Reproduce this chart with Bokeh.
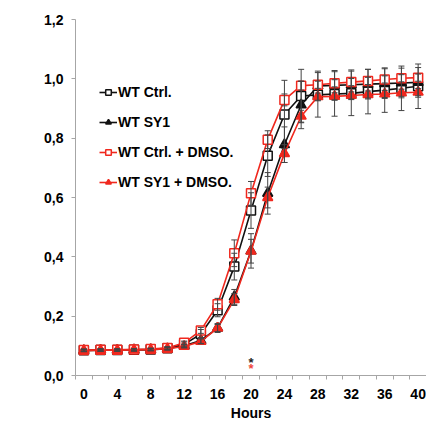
import numpy as np
from bokeh.plotting import figure
from bokeh.models import (ColumnDataSource, Whisker, TeeHead, FixedTicker, Legend,
                          LegendItem, Label, Range1d)
from bokeh.embed import file_html
from bokeh.resources import INLINE
from bokeh.core.properties import value

# ---------------- data ----------------
hours = [0, 2, 4, 6, 8, 10, 12, 14, 16, 18, 20, 22, 24, 26, 28, 30, 32, 34, 36, 38, 40]

wt_ctrl = [0.085, 0.086, 0.086, 0.087, 0.088, 0.092, 0.105, 0.140, 0.220, 0.367, 0.556,
           0.741, 0.880, 0.942, 0.946, 0.949, 0.951, 0.957, 0.962, 0.968, 0.975]
wt_ctrl_err = [0.004, 0.004, 0.004, 0.004, 0.004, 0.005, 0.008, 0.015, 0.022, 0.045, 0.060,
               0.070, 0.115, 0.090, 0.075, 0.075, 0.075, 0.075, 0.075, 0.075, 0.075]

wt_sy1 = [0.084, 0.085, 0.085, 0.086, 0.087, 0.090, 0.100, 0.118, 0.160, 0.265, 0.420,
          0.614, 0.778, 0.912, 0.976, 0.978, 0.980, 0.982, 0.984, 0.986, 0.988]
wt_sy1_err = [0.004, 0.004, 0.004, 0.004, 0.004, 0.004, 0.006, 0.010, 0.015, 0.025, 0.058,
              0.070, 0.060, 0.080, 0.050, 0.050, 0.050, 0.050, 0.050, 0.050, 0.050]

wt_ctrl_dmso = [0.086, 0.087, 0.087, 0.088, 0.089, 0.093, 0.110, 0.152, 0.240, 0.412, 0.614,
                0.795, 0.929, 0.977, 0.980, 0.985, 0.989, 0.993, 0.998, 1.002, 1.004]
wt_ctrl_dmso_err = [0.003, 0.003, 0.003, 0.003, 0.003, 0.004, 0.006, 0.010, 0.020, 0.045, 0.040,
                    0.030, 0.020, 0.015, 0.012, 0.012, 0.012, 0.012, 0.012, 0.012, 0.012]

wt_sy1_dmso = [0.084, 0.085, 0.085, 0.086, 0.087, 0.090, 0.098, 0.115, 0.160, 0.256, 0.419,
               0.600, 0.748, 0.874, 0.940, 0.941, 0.944, 0.947, 0.949, 0.953, 0.955]
wt_sy1_dmso_err = [0.003, 0.003, 0.003, 0.003, 0.003, 0.004, 0.005, 0.008, 0.012, 0.020, 0.040,
                   0.035, 0.030, 0.020, 0.012, 0.012, 0.012, 0.012, 0.012, 0.012, 0.012]

series_labels = ["WT Ctrl.", "WT SY1", "WT Ctrl. + DMSO.", "WT SY1 + DMSO."]

x_tick_values = [0, 4, 8, 12, 16, 20, 24, 28, 32, 36, 40]
y_tick_values = [0, 0.2, 0.4, 0.6, 0.8, 1.0, 1.2]
y_tick_labels = ["0,0", "0,2", "0,4", "0,6", "0,8", "1,0", "1,2"]

star_x = [20, 20]
star_y = [0.045, 0.025]
star_text = ["*", "*"]
star_colors = ["#222222", "#f0463c"]

# ---------------- style ----------------
BLACK = "#111111"
RED = "#f0281e"
AXIS = "#a6a6a6"
FONT = "Liberation Sans"

p = figure(width=426, height=428, output_backend="svg", toolbar_location=None,
           x_range=Range1d(-1, 41), y_range=Range1d(0, 1.2),
           min_border_left=75, min_border_right=0, min_border_top=19, min_border_bottom=53)
p.outline_line_color = None
p.xgrid.visible = False
p.ygrid.visible = False
p.background_fill_color = "white"

# x axis
minor = [h - 1 for h in hours] + [hours[-1] + 1]
p.xaxis.ticker = FixedTicker(ticks=x_tick_values, minor_ticks=minor)
p.xaxis.major_tick_line_color = None
p.xaxis.major_tick_out = 4
p.xaxis.major_tick_in = 0
p.xaxis.minor_tick_out = 4
p.xaxis.minor_tick_in = 0
p.xaxis.minor_tick_line_color = AXIS
p.xaxis.axis_line_color = AXIS
p.xaxis.major_label_standoff = 9
p.xaxis.axis_label = "Hours"
p.xaxis.axis_label_standoff = 3

# y axis
p.yaxis.ticker = FixedTicker(ticks=y_tick_values, minor_ticks=[])
p.yaxis.major_label_overrides = dict(zip(y_tick_values, y_tick_labels))
p.yaxis.major_tick_line_color = AXIS
p.yaxis.major_tick_out = 4
p.yaxis.major_tick_in = 0
p.yaxis.minor_tick_line_color = None
p.yaxis.axis_line_color = AXIS
p.yaxis.major_label_standoff = 8

for ax in (p.xaxis, p.yaxis):
    ax.major_label_text_font = FONT
    ax.major_label_text_font_style = "bold"
    ax.major_label_text_font_size = "14px"
    ax.major_label_text_color = "black"
    ax.axis_label_text_font = FONT
    ax.axis_label_text_font_style = "bold"
    ax.axis_label_text_font_size = "14px"
    ax.axis_label_text_color = "black"

# outer chart-area border (only its top and left edges fall inside the picture)
p.add_layout(Label(x=-8.66, y=1.2438, text=" ", text_align="left", text_baseline="top",
                   text_font_size="2px", padding=(0, 600, 600, 0),
                   border_line_color="#cfcfcf", border_line_width=1,
                   background_fill_alpha=0, level="underlay"))

# ---------------- series ----------------
specs = [
    (wt_ctrl, wt_ctrl_err, BLACK, "square", "white"),
    (wt_sy1, wt_sy1_err, BLACK, "triangle", BLACK),
    (wt_ctrl_dmso, wt_ctrl_dmso_err, RED, "square", "white"),
    (wt_sy1_dmso, wt_sy1_dmso_err, RED, "triangle", RED),
]

items = []
for (vals, errs, col, mk, fill), lab in zip(specs, series_labels):
    src = ColumnDataSource(dict(
        x=hours, y=vals,
        upper=[v + e for v, e in zip(vals, errs)],
        lower=[v - e for v, e in zip(vals, errs)],
    ))
    w = Whisker(source=src, base="x", upper="upper", lower="lower",
                line_color="#444444", line_width=1, level="glyph",
                upper_head=TeeHead(size=6, line_color="#444444", line_width=1),
                lower_head=TeeHead(size=6, line_color="#444444", line_width=1))
    p.add_layout(w)
    lr = p.line("x", "y", source=src, line_color=col, line_width=1.6)
    sz = 9 if mk == "square" else 10
    sr = p.scatter("x", "y", source=src, marker=mk, size=sz, line_color=col,
                   fill_color=fill, line_width=1.5)
    items.append(LegendItem(label=lab, renderers=[lr, sr]))

legend = Legend(items=items, location=(24, 183))
legend.label_text_font = FONT
legend.label_text_font_style = "bold"
legend.label_text_font_size = "14px"
legend.label_text_color = "black"
legend.glyph_width = 18
legend.glyph_height = 14
legend.label_height = 20
legend.spacing = 10
legend.padding = 0
legend.margin = 0
legend.label_standoff = 1
legend.border_line_color = None
legend.background_fill_alpha = 0
p.add_layout(legend)

# asterisks
p.text(x=star_x, y=star_y, text=star_text, text_color=star_colors,
       text_align="center", text_baseline="middle",
       text_font=value(FONT), text_font_size="13px", text_font_style="bold")

# y axis label OD_600nm
p.add_layout(Label(x=-6.26, y=0.455, text="OD", angle=np.pi / 2,
                   text_align="center", text_baseline="middle",
                   text_font=FONT, text_font_style="bold", text_font_size="14px",
                   text_color="black"))
p.add_layout(Label(x=-5.55, y=0.515, text="600nm", angle=np.pi / 2,
                   text_align="center", text_baseline="middle",
                   text_font=FONT, text_font_style="bold", text_font_size="9px",
                   text_color="black"))

open("out.html", "w").write(file_html(p, INLINE))
